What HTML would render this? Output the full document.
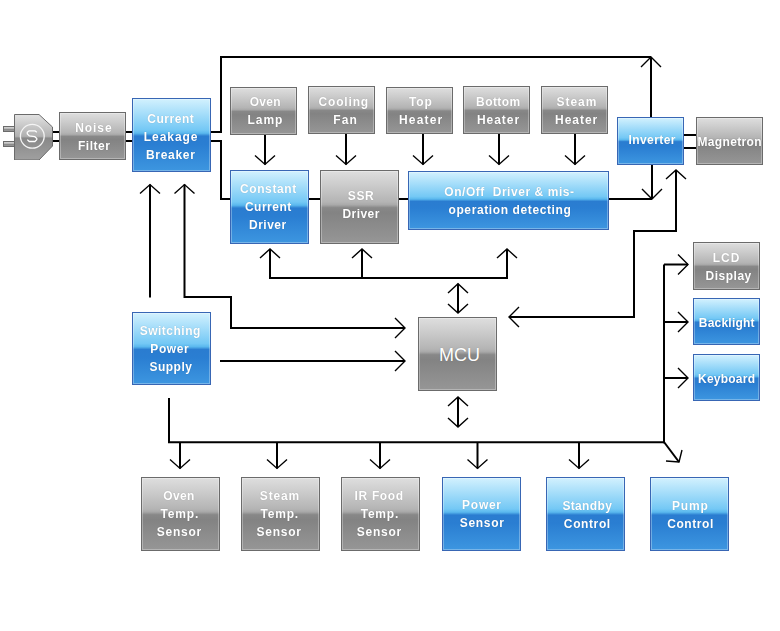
<!DOCTYPE html>
<html><head><meta charset="utf-8"><style>
html,body{margin:0;padding:0;background:#fff;width:780px;height:631px;overflow:hidden;position:relative}
svg{position:absolute;left:0;top:0}
.bx{position:absolute;box-sizing:border-box;border:1px solid #6b6b6b;display:flex;align-items:center;justify-content:center;text-align:center;font-family:"Liberation Sans",sans-serif;font-weight:bold;font-size:12px;line-height:18px;color:#fff;text-shadow:0 0 1px rgba(0,0,0,0.25);box-shadow:inset 0 0 0 1px rgba(255,255,255,0.3)}
.g{background:linear-gradient(to bottom,#dedede 0%,#cdcdcd 18%,#b4b4b4 43%,#a9a9a9 47%,#888 51%,#838383 58%,#969696 100%)}
.b{border-color:#3866b4;background:linear-gradient(to bottom,#d2f1fe 0%,#74c8f5 43%,#5ab8ee 47.5%,#2a7cd0 51.5%,#2a7ed2 63%,#3d96e0 100%)}
.bx p{position:relative;margin:0;will-change:transform}.bx span{position:relative;white-space:nowrap}.mcu{font-weight:normal;font-size:18px}
</style></head><body>
<svg width="780" height="631" viewBox="0 0 780 631"><g fill="none" stroke="#000" stroke-width="2" stroke-linejoin="miter" stroke-linecap="butt"><path d="M53,132 L59,132"/><path d="M53,141 L59,141"/><path d="M126,132 L132,132"/><path d="M126,141 L132,141"/><path d="M211,132 L221,132 L221,57 L651,57"/><path d="M211,141 L221,141 L221,199 L230,199"/><path d="M309,199 L320,199"/><path d="M399,199 L408,199"/><path d="M609,199 L652,199"/><path d="M651,117 L651,57"/><path d="M652,165 L652,199"/><path d="M684,135 L696,135"/><path d="M684,148 L696,148"/><path d="M265,135 L265,164.4"/><path d="M346,134 L346,164.4"/><path d="M423,134 L423,164.4"/><path d="M499,133 L499,164.4"/><path d="M575,133 L575,164.4"/><path d="M150,297.5 L150,184.6"/><path d="M405,328 L231,328 L231,297 L184.5,297 L184.5,184.6"/><path d="M220,361 L405,361"/><path d="M270,249 L270,278 L507,278 L507,249"/><path d="M362,278 L362,249"/><path d="M458,283.7 L458,313"/><path d="M458,397 L458,427"/><path d="M509,317 L634,317 L634,231 L676,231 L676,170"/><path d="M664,264.5 L664,443.2"/><path d="M664,264.5 L688,264.5"/><path d="M664,322 L688,322"/><path d="M664,378 L688,378"/><path d="M169,398 L169,442.2 L664,442.2"/><path d="M180,442.2 L180,468.4"/><path d="M277,442.2 L277,468.4"/><path d="M380,442.2 L380,468.4"/><path d="M477.5,442.2 L477.5,468.4"/><path d="M579,442.2 L579,468.4"/><path d="M664,442 L679,462"/></g><g fill="none" stroke="#000" stroke-width="1.4" stroke-linejoin="miter"><path d="M641,67 L651,57 L661,67"/><path d="M642,189 L652,199 L662,189"/><path d="M255,155.4 L265,164.4 L275,155.4"/><path d="M336,155.4 L346,164.4 L356,155.4"/><path d="M413,155.4 L423,164.4 L433,155.4"/><path d="M489,155.4 L499,164.4 L509,155.4"/><path d="M565,155.4 L575,164.4 L585,155.4"/><path d="M140,193.6 L150,184.6 L160,193.6"/><path d="M174.5,193.6 L184.5,184.6 L194.5,193.6"/><path d="M395,318 L405,328 L395,338"/><path d="M395,351 L405,361 L395,371"/><path d="M260,258 L270,249 L280,258"/><path d="M352,258 L362,249 L372,258"/><path d="M497,258 L507,249 L517,258"/><path d="M448,293.0 L458,283.7 L468,293.0"/><path d="M448,304 L458,313 L468,304"/><path d="M448,406 L458,397 L468,406"/><path d="M448,418 L458,427 L468,418"/><path d="M519,307 L509,317 L519,327"/><path d="M666,179 L676,170 L686,179"/><path d="M678,254.5 L688,264.5 L678,274.5"/><path d="M678,312 L688,322 L678,332"/><path d="M678,368 L688,378 L678,388"/><path d="M170,459.4 L180,468.4 L190,459.4"/><path d="M267,459.4 L277,468.4 L287,459.4"/><path d="M370,459.4 L380,468.4 L390,459.4"/><path d="M467.5,459.4 L477.5,468.4 L487.5,459.4"/><path d="M569,459.4 L579,468.4 L589,459.4"/><path d="M682,450 L679,462 L666,461"/></g></svg>
<svg class="plug" width="60" height="60" viewBox="0 0 60 60" style="position:absolute;left:0;top:100px">
<defs>
<linearGradient id="pg" x1="0" y1="0" x2="0" y2="1">
<stop offset="0" stop-color="#e2e2e2"/><stop offset="0.48" stop-color="#b0b0b0"/><stop offset="0.52" stop-color="#888"/><stop offset="1" stop-color="#a0a0a0"/>
</linearGradient>
</defs>
<rect x="3.5" y="26.5" width="11" height="5" fill="url(#pg)" stroke="#6b6b6b"/>
<rect x="3.5" y="41.5" width="11" height="5" fill="url(#pg)" stroke="#6b6b6b"/>
<path d="M14.5,14.5 L39,14.5 L52.5,27 L52.5,46 L39,60 L14.5,60 Z" fill="url(#pg)" stroke="#6b6b6b"/>
<circle cx="32.3" cy="36.3" r="11.9" fill="none" stroke="#f4f4f4" stroke-width="1.3"/>
<path d="M36.8,32.2 L34.9,30.8 L29.2,30.8 L27.3,32.2 L27.3,33.9 L29.2,35.8 L34.9,36.7 L36.8,38.4 L36.8,39.6 L34.9,41.5 L29.2,41.5 L27.3,39.6" fill="none" stroke="#fff" stroke-width="1.3" stroke-linejoin="round"/>
</svg>
<div class="bx g" style="left:59px;top:112px;width:67px;height:48px"><p style="top:0.5px"><span style="letter-spacing:0.95px;margin-right:-0.95px;left:1.2px">Noise</span><br><span style="letter-spacing:0.54px;margin-right:-0.54px;left:1.7px">Filter</span></p></div><div class="bx b" style="left:132px;top:98px;width:79px;height:74px"><p style="top:1.8px"><span style="letter-spacing:0.54px;margin-right:-0.54px;left:-1.3px">Current</span><br><span style="letter-spacing:0.94px;margin-right:-0.94px;left:-1.2px">Leakage</span><br><span style="letter-spacing:0.69px;margin-right:-0.69px;left:-1.4px">Breaker</span></p></div><div class="bx g" style="left:230px;top:87px;width:67px;height:48px"><p style="top:0px"><span style="letter-spacing:0.32px;margin-right:-0.32px;left:1.6px">Oven</span><br><span style="letter-spacing:1.02px;margin-right:-1.02px;left:1.4px">Lamp</span></p></div><div class="bx g" style="left:308px;top:86px;width:67px;height:48px"><p style="top:0.5px"><span style="letter-spacing:0.81px;margin-right:-0.81px;left:1.6px">Cooling</span><br><span style="letter-spacing:1.07px;margin-right:-1.07px;left:3.3px">Fan</span></p></div><div class="bx g" style="left:386px;top:87px;width:67px;height:47px"><p style="top:0px"><span style="letter-spacing:0.90px;margin-right:-0.90px;left:0.8px">Top</span><br><span style="letter-spacing:1.16px;margin-right:-1.16px;left:1.0px">Heater</span></p></div><div class="bx g" style="left:463px;top:86px;width:67px;height:48px"><p style="top:0.5px"><span style="letter-spacing:0.46px;margin-right:-0.46px;left:2.0px">Bottom</span><br><span style="letter-spacing:0.94px;margin-right:-0.94px;left:1.9px">Heater</span></p></div><div class="bx g" style="left:541px;top:86px;width:67px;height:48px"><p style="top:0.5px"><span style="letter-spacing:0.97px;margin-right:-0.97px;left:2.3px">Steam</span><br><span style="letter-spacing:0.98px;margin-right:-0.98px;left:2.0px">Heater</span></p></div><div class="bx b" style="left:230px;top:170px;width:79px;height:74px"><p style="top:0px"><span style="letter-spacing:0.63px;margin-right:-0.63px;left:-1.1px">Constant</span><br><span style="letter-spacing:0.51px;margin-right:-0.51px;left:-1.1px">Current</span><br><span style="letter-spacing:0.51px;margin-right:-0.51px;left:-1.6px">Driver</span></p></div><div class="bx g" style="left:320px;top:170px;width:79px;height:74px"><p style="top:-1.9px"><span style="letter-spacing:0.60px;margin-right:-0.60px;left:1.3px">SSR</span><br><span style="letter-spacing:0.45px;margin-right:-0.45px;left:1.4px">Driver</span></p></div><div class="bx b" style="left:408px;top:171px;width:201px;height:59px"><p style="top:0px"><span style="letter-spacing:0.55px;margin-right:-0.55px;left:0.3px">On/Off&nbsp; Driver &amp; mis-</span><br><span style="letter-spacing:0.61px;margin-right:-0.61px;left:0.8px">operation detecting</span></p></div><div class="bx b" style="left:617px;top:117px;width:67px;height:48px"><p style="top:-1px"><span style="letter-spacing:0.41px;margin-right:-0.41px;left:1.5px">Inverter</span></p></div><div class="bx g" style="left:696px;top:117px;width:67px;height:48px"><p style="top:0.7px"><span style="letter-spacing:0.36px;margin-right:-0.36px;left:0.4px">Magnetron</span></p></div><div class="bx g" style="left:693px;top:242px;width:67px;height:48px"><p style="top:1.0px"><span style="letter-spacing:1.05px;margin-right:-1.05px;left:-0.8px">LCD</span><br><span style="letter-spacing:0.51px;margin-right:-0.51px;left:1.5px">Display</span></p></div><div class="bx b" style="left:693px;top:298px;width:67px;height:47px"><p style="top:1.3px"><span style="letter-spacing:0.21px;margin-right:-0.21px;left:-0.2px">Backlight</span></p></div><div class="bx b" style="left:693px;top:354px;width:67px;height:47px"><p style="top:1.2px"><span style="letter-spacing:0.24px;margin-right:-0.24px;left:-0.0px">Keyboard</span></p></div><div class="bx b" style="left:132px;top:312px;width:79px;height:73px"><p style="top:0px"><span style="letter-spacing:0.49px;margin-right:-0.49px;left:-1.3px">Switching</span><br><span style="letter-spacing:0.57px;margin-right:-0.57px;left:-1.8px">Power</span><br><span style="letter-spacing:0.46px;margin-right:-0.46px;left:-0.6px">Supply</span></p></div><div class="bx g" style="left:141px;top:477px;width:79px;height:74px"><p style="top:-0.5px"><span style="letter-spacing:0.35px;margin-right:-0.35px;left:-1.4px">Oven</span><br><span style="letter-spacing:0.80px;margin-right:-0.80px;left:-0.8px">Temp.</span><br><span style="letter-spacing:0.75px;margin-right:-0.75px;left:-1.3px">Sensor</span></p></div><div class="bx g" style="left:241px;top:477px;width:79px;height:74px"><p style="top:-0.5px"><span style="letter-spacing:0.85px;margin-right:-0.85px;left:-0.7px">Steam</span><br><span style="letter-spacing:0.80px;margin-right:-0.80px;left:-0.9px">Temp.</span><br><span style="letter-spacing:0.75px;margin-right:-0.75px;left:-1.4px">Sensor</span></p></div><div class="bx g" style="left:341px;top:477px;width:79px;height:74px"><p style="top:-0.5px"><span style="letter-spacing:0.65px;margin-right:-0.65px;left:-1.4px">IR Food</span><br><span style="letter-spacing:0.80px;margin-right:-0.80px;left:-0.8px">Temp.</span><br><span style="letter-spacing:0.75px;margin-right:-0.75px;left:-1.3px">Sensor</span></p></div><div class="bx b" style="left:442px;top:477px;width:79px;height:74px"><p style="top:-0.5px"><span style="letter-spacing:0.72px;margin-right:-0.72px;left:0.5px">Power</span><br><span style="letter-spacing:0.69px;margin-right:-0.69px;left:0.7px">Sensor</span></p></div><div class="bx b" style="left:546px;top:477px;width:79px;height:74px"><p style="top:0.5px"><span style="letter-spacing:0.35px;margin-right:-0.35px;left:1.4px">Standby</span><br><span style="letter-spacing:0.61px;margin-right:-0.61px;left:1.3px">Control</span></p></div><div class="bx b" style="left:650px;top:477px;width:79px;height:74px"><p style="top:0.5px"><span style="letter-spacing:0.90px;margin-right:-0.90px;left:0.9px">Pump</span><br><span style="letter-spacing:0.57px;margin-right:-0.57px;left:1.2px">Control</span></p></div><div class="bx g mcu" style="left:418px;top:317px;width:79px;height:74px"><span style="position:relative;left:2px;top:1px">MCU</span></div>
</body></html>
